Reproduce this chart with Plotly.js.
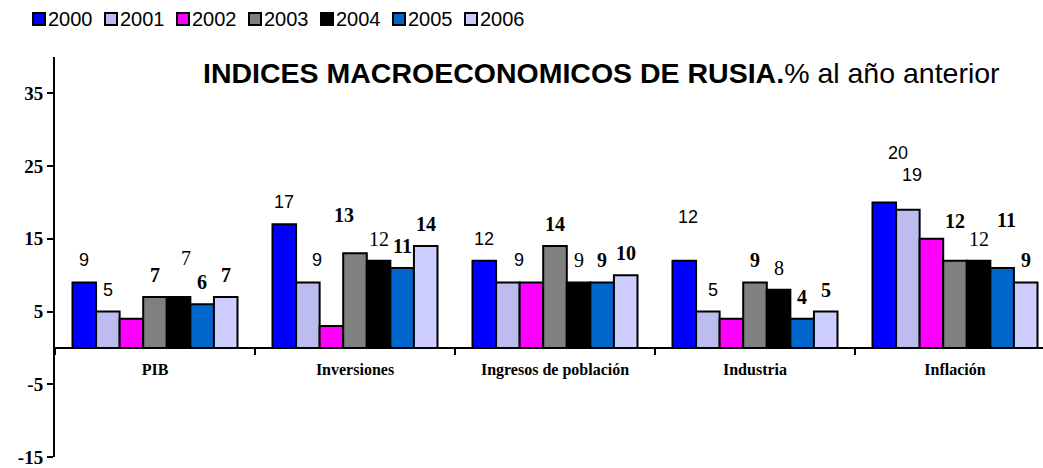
<!DOCTYPE html>
<html>
<head>
<meta charset="utf-8">
<script src="https://cdn.plot.ly/plotly-3.0.1.min.js"></script>
<style>html,body{margin:0;padding:0;background:#fff;}#chart{width:1043px;height:468px;}</style>
</head>
<body>
<div id="chart"></div>
<script>
// ---- data ----
const categories = ["PIB", "Inversiones", "Ingresos de población", "Industria", "Inflación"];
const years = ["2000", "2001", "2002", "2003", "2004", "2005", "2006"];
const v2000 = [9, 17, 12, 12, 20];
const v2001 = [5, 9, 9, 5, 19];
const v2002 = [4, 3, 9, 4, 15];
const v2003 = [7, 13, 14, 9, 12];
const v2004 = [7, 12, 9, 8, 12];
const v2005 = [6, 11, 9, 4, 11];
const v2006 = [7, 14, 10, 5, 9];
const yTicks = [-15, -5, 5, 15, 25, 35];

// ---- styles ----
const seriesValues = [v2000, v2001, v2002, v2003, v2004, v2005, v2006];
const colors = ["#0000FF", "#BCBCEE", "#FF00FF", "#808080", "#000000", "#0066CC", "#CCCCFF"];
const SANS = "Liberation Sans, Arial, sans-serif";
const SERIF = "Liberation Serif, Times New Roman, serif";
// label style per series (null = no labels)
const labelStyle = [
  {family: SANS, size: 18, bold: false},
  {family: SANS, size: 18, bold: false},
  null,
  {family: SERIF, size: 20, bold: true},
  {family: SERIF, size: 20, bold: false},
  {family: SERIF, size: 20, bold: true},
  {family: SERIF, size: 20, bold: true}
];
// manual label nudges in px [dx, dy-up], as in the original Excel chart
const labelNudge = {
  "PIB|2004": [7, 17],
  "Inversiones|2001": [9, 0],
  "Inversiones|2003": [-11, 16],
  "Ingresos de población|2001": [11, 0],
  "Industria|2000": [4, 22],
  "Industria|2001": [5, 0],
  "Inflación|2000": [14, 27],
  "Inflación|2001": [4, 13],
  "Inflación|2003": [0, 18],
  "Inflación|2005": [4, 26]
};

const W = 1043, H = 468;
const M = {l: 55, r: 0, t: 57, b: 11};
const plotW = W - M.l - M.r, plotH = H - M.t - M.b;
const xRange = [-0.5, 4.44];
const yRange = [-15, 40];
const bargap = 0.175;
const catPx = plotW / (xRange[1] - xRange[0]);
const barPx = catPx * (1 - bargap) / years.length;
const pxX = p => (p - M.l) / plotW;
const pxY = p => (H - M.b - p) / plotH;

const traces = years.map((yr, i) => ({
  type: "bar",
  name: yr,
  x: categories,
  y: seriesValues[i],
  marker: {color: colors[i], line: {color: "#000", width: 2}},
  hoverinfo: "x+y+name"
}));

const annotations = [];
years.forEach((yr, i) => {
  const st = labelStyle[i];
  if (!st) return;
  categories.forEach((c, j) => {
    const n = labelNudge[c + "|" + yr] || [0, 0];
    const val = seriesValues[i][j];
    annotations.push({
      x: c, y: val, xref: "x", yref: "y",
      text: st.bold ? "<b>" + val + "</b>" : String(val),
      showarrow: false,
      xanchor: "center", yanchor: "middle",
      xshift: (i - (years.length - 1) / 2) * barPx + n[0],
      yshift: 22 + n[1],
      font: {family: st.family, size: st.size, color: "#000"}
    });
  });
});

// title
annotations.push({
  xref: "paper", yref: "paper",
  x: pxX(201), y: pxY(73),
  xanchor: "left", yanchor: "middle",
  showarrow: false,
  text: "<b>INDICES MACROECONOMICOS DE RUSIA.</b>% al año anterior",
  font: {family: SANS, size: 28.5, color: "#000"}
});

// custom legend
const shapes = [];
const legX0 = 33, legStep = 72, legY = 19, sq = 12;
years.forEach((yr, i) => {
  const x0 = legX0 + i * legStep;
  shapes.push({
    type: "rect", xref: "paper", yref: "paper",
    x0: pxX(x0), x1: pxX(x0 + sq),
    y0: pxY(legY + sq / 2), y1: pxY(legY - sq / 2),
    fillcolor: colors[i], line: {color: "#000", width: 2}
  });
  annotations.push({
    xref: "paper", yref: "paper",
    x: pxX(x0 + sq + 1), y: pxY(legY),
    xanchor: "left", yanchor: "middle", showarrow: false,
    text: yr, font: {family: SANS, size: 20, color: "#000"}
  });
});

const layout = {
  width: W, height: H,
  margin: M,
  paper_bgcolor: "#fff", plot_bgcolor: "#fff",
  showlegend: false,
  barmode: "group",
  bargap: bargap, bargroupgap: 0,
  xaxis: {
    type: "category",
    range: xRange,
    anchor: "free",
    position: (0 - yRange[0]) / (yRange[1] - yRange[0]),
    showline: true, linecolor: "#000", linewidth: 2,
    ticks: "outside", tickson: "boundaries", ticklen: 6, tickwidth: 2, tickcolor: "#000",
    ticklabelstandoff: 7,
    showgrid: false, zeroline: false,
    tickfont: {family: SERIF, size: 16, color: "#000", weight: "bold"},
    fixedrange: true
  },
  yaxis: {
    range: yRange,
    tickmode: "array", tickvals: yTicks, ticktext: yTicks.map(String),
    showline: true, linecolor: "#000", linewidth: 2,
    ticks: "outside", ticklen: 6, tickwidth: 2, tickcolor: "#000",
    ticklabeloverflow: "allow",
    showgrid: false, zeroline: false,
    tickfont: {family: SERIF, size: 19, color: "#000", weight: "bold"},
    fixedrange: true
  },
  annotations: annotations,
  shapes: shapes
};

Plotly.newPlot("chart", traces, layout, {displayModeBar: false, staticPlot: true});
</script>
</body>
</html>
